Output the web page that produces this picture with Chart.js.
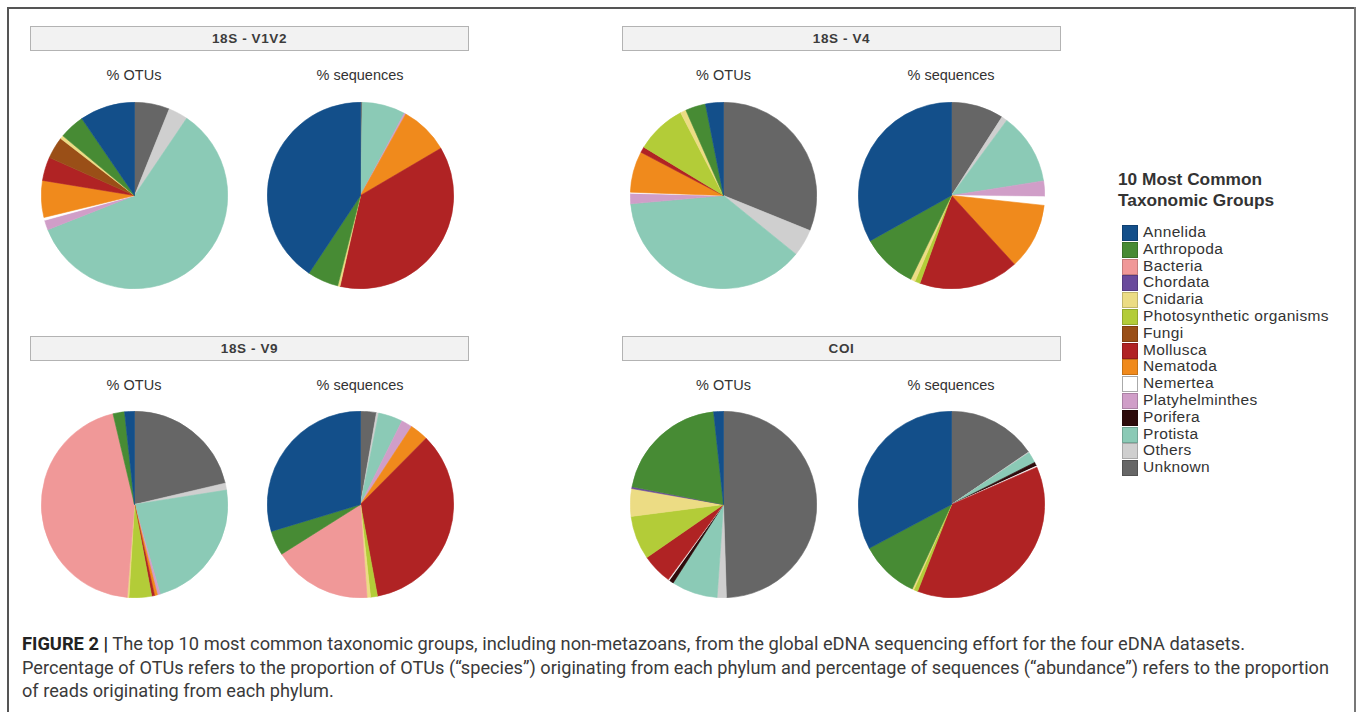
<!DOCTYPE html>
<html>
<head>
<meta charset="utf-8">
<script src="https://cdn.jsdelivr.net/npm/chart.js@4"></script>
<style>
  html, body { margin:0; padding:0; background:#fff; }
  body { width:1357px; height:712px; position:relative; overflow:hidden; font-family:"Liberation Sans", Arial, Helvetica, sans-serif; }
  .frameT { position:absolute; left:8px; top:7px; width:1348px; height:2px; background:#555; }
  .frameL { position:absolute; left:7px; top:7px; width:2px; height:710px; background:#555; }
  .frameR { position:absolute; left:1354px; top:7px; width:2px; height:710px; background:#777; }
  .hdr { position:absolute; height:25px; width:439px; background:#f2f2f2; border:1px solid #b3b3b3; box-sizing:border-box;
         font-weight:bold; font-size:13.5px; letter-spacing:0.6px; color:#3c3c3c; text-align:center; line-height:23px; }
  .sub { position:absolute; width:200px; text-align:center; font-size:14.5px; color:#333; }
  canvas.pie { position:absolute; }
  .legTitle { position:absolute; left:1118px; top:169px; font-weight:bold; font-size:17.3px; color:#333; line-height:21px; }
  .legItem { position:absolute; left:1122px; height:17px; font-size:15.5px; letter-spacing:0.35px; color:#333; line-height:16px; white-space:nowrap; }
  .legItem .sw { position:absolute; left:0; top:1px; width:14px; height:14px; border:1px solid rgba(0,0,0,0.18); }
  .legItem .tx { position:absolute; left:21px; top:0; }
  .cap { position:absolute; left:22px; font-family:"Liberation Sans Narrow","Roboto","Liberation Sans",sans-serif; font-size:17.5px; color:#3a3a3a; white-space:nowrap; transform-origin:0 0; }
  .cap b { font-weight:bold; color:#222; }
</style>
</head>
<body>
<div class="frameT"></div><div class="frameL"></div><div class="frameR"></div>
<div id="root"></div>
<script>
// ---- data ----
const groups = ["Annelida","Arthropoda","Bacteria","Chordata","Cnidaria","Photosynthetic organisms","Fungi","Mollusca","Nematoda","Nemertea","Platyhelminthes","Porifera","Protista","Others","Unknown"];
const groupColors = ["#134f8a","#478b34","#f09898","#6a4a9c","#ecdc84","#b3cc38","#9a4f17","#b02324","#f08a1c","#ffffff","#d09ec8","#2e0b0b","#8bcab6","#cfcfcf","#666666"];
const legendTitle = ["10 Most Common","Taxonomic Groups"];
const panelTitles = ["18S - V1V2","18S - V4","18S - V9","COI"];
const pieTitles = ["% OTUs","% sequences"];
// values in legend order (percent)
//                 Ann  Arth  Bact Chor Cnid Phot Fung Moll Nema Nemr Plat Pori Prot Oth  Unk
const v1v2Otus = [ 9.6, 4.4,  0,   0,   0.6, 0,   3.8, 4.1, 6.4, 0.5, 1.7, 0,  59.8, 3.4, 6.1];
const v1v2Seqs = [40.8, 5.4,  0,   0,   0.4, 0,   0,  37.1, 8.5, 0,   0.3, 0,   7.5, 0,   0.3];
const v4Otus   = [ 3.1, 3.5,  0,   0,   1.0, 8.7, 0,   1.0, 7.1, 0.2, 1.8, 0,  37.7, 4.7, 31.1];
const v4Seqs   = [33.1, 9.7,  0,   0,   0.8, 0.9, 0,  17.3,11.5, 1.5, 2.7, 0,  12.4, 1.0, 9.1];
const v9Otus   = [ 1.7, 2.0, 45.0, 0,   0.3, 3.9, 0,   0.5, 0.5, 0,   0.5, 0,  23.0, 1.2, 21.3];
const v9Seqs   = [29.7, 4.3, 17.2, 0,   0.6, 1.2, 0,  34.7, 3.2, 0,   1.9, 0,   4.2, 0.4, 2.75];
const coiOtus  = [ 1.7,20.3,  0,   0.3, 4.8, 7.6, 0,   5.3, 0,   0.2, 0,   0.8, 8.0, 1.6, 49.6];
const coiSeqs  = [32.8,10.3,  0,   0,   0.3, 0.7, 0,  37.5, 0,   0.2, 0,   0.7, 1.9, 0.15,15.5];
const captionLines = [
  ["FIGURE 2 |", " The top 10 most common taxonomic groups, including non-metazoans, from the global eDNA sequencing effort for the four eDNA datasets."],
  ["", "Percentage of OTUs refers to the proportion of OTUs (\u201cspecies\u201d) originating from each phylum and percentage of sequences (\u201cabundance\u201d) refers to the proportion"],
  ["", "of reads originating from each phylum."]
];

// ---- layout ----
const root = document.getElementById('root');
const panels = [
  {title: panelTitles[0], x:30,  y:26,  data:[v1v2Otus, v1v2Seqs], cx:[134,360], cy:195},
  {title: panelTitles[1], x:622, y:26,  data:[v4Otus, v4Seqs],     cx:[723.5,951], cy:195},
  {title: panelTitles[2], x:30,  y:336, data:[v9Otus, v9Seqs],     cx:[134,360], cy:504},
  {title: panelTitles[3], x:622, y:336, data:[coiOtus, coiSeqs],   cx:[723.5,951], cy:504}
];
const R = 93.5;
const order = groups.map((g,i)=>i).reverse(); // clockwise from top in reverse legend order

panels.forEach(p => {
  const h = document.createElement('div');
  h.className = 'hdr'; h.style.left = p.x+'px'; h.style.top = p.y+'px'; h.textContent = p.title;
  root.appendChild(h);
  p.data.forEach((vals, k) => {
    const s = document.createElement('div');
    s.className = 'sub'; s.textContent = pieTitles[k];
    s.style.left = (p.cx[k]-100)+'px'; s.style.top = (p.y+41)+'px';
    root.appendChild(s);
    const c = document.createElement('canvas');
    c.className = 'pie';
    const size = Math.round(R*2);
    c.width = size; c.height = size;
    c.style.width = size+'px'; c.style.height = size+'px';
    c.style.left = (p.cx[k]-size/2)+'px'; c.style.top = (p.cy-size/2)+'px';
    root.appendChild(c);
    new Chart(c, {
      type:'pie',
      data:{
        labels: order.map(i=>groups[i]),
        datasets:[{
          data: order.map(i=>vals[i]),
          backgroundColor: order.map(i=>groupColors[i]),
          borderColor: order.map(i=>groupColors[i]),
          borderWidth: 0.6
        }]
      },
      options:{
        responsive:false, animation:false, maintainAspectRatio:false,
        layout:{padding:0},
        plugins:{legend:{display:false}, tooltip:{enabled:false}}
      }
    });
  });
});

// legend
const lt = document.createElement('div');
lt.className = 'legTitle'; lt.innerHTML = legendTitle.join('<br>');
root.appendChild(lt);
groups.forEach((g,i)=>{
  const it = document.createElement('div');
  it.className = 'legItem'; it.style.top = (224 + i*16.8)+'px';
  const sw = document.createElement('span'); sw.className='sw'; sw.style.background = groupColors[i];
  if (groupColors[i] === '#ffffff') sw.style.borderColor = '#aaa';
  const tx = document.createElement('span'); tx.className='tx'; tx.textContent = g;
  it.appendChild(sw); it.appendChild(tx); root.appendChild(it);
});

// caption
const capTargets = [1245-22, 1329-22];
const capTops = [634, 658, 681];
let lastScale = 1;
captionLines.forEach((ln, i)=>{
  const d = document.createElement('div');
  d.className = 'cap'; d.style.top = capTops[i]+'px';
  if (ln[0]) { const b = document.createElement('b'); b.textContent = ln[0]; d.appendChild(b); }
  d.appendChild(document.createTextNode(ln[1]));
  root.appendChild(d);
  const w = d.getBoundingClientRect().width;
  const sc = capTargets[i] ? capTargets[i]/w : lastScale;
  lastScale = sc;
  d.style.transform = 'scaleX(' + sc + ')';
});
</script>
</body>
</html>
